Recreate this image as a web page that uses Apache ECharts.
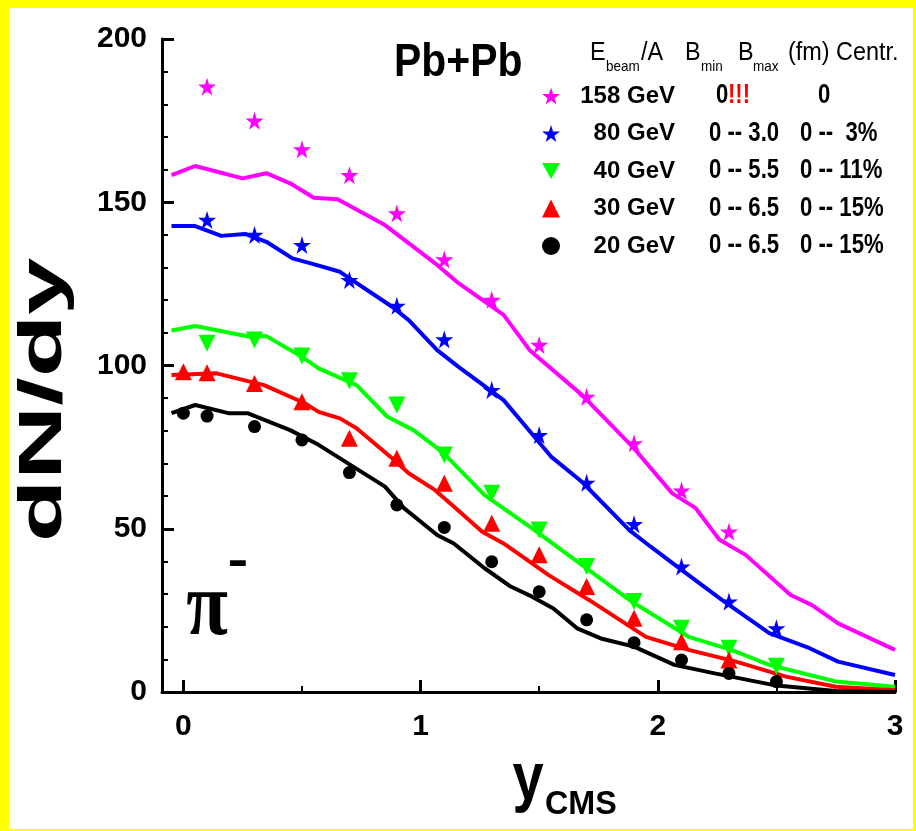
<!DOCTYPE html>
<html>
<head>
<meta charset="utf-8">
<script src="https://cdn.jsdelivr.net/npm/echarts@6/dist/echarts.min.js"></script>
<style>
html,body{margin:0;padding:0;background:#ffff00;}
#frame{position:absolute;left:9px;top:8px;width:904px;height:821px;background:#fff;}
#chart{position:absolute;left:0;top:0;width:916px;height:831px;}
</style>
</head>
<body>
<div id="frame"></div>
<div id="chart"></div>
<script>
// ---- data ----
const names = ['158 GeV', '80 GeV', '40 GeV', '30 GeV', '20 GeV'];
const colors = ['#ff00ff', '#0000ff', '#00ff00', '#ff0000', '#000000'];

const x158 = [0.1,0.3,0.5,0.7,0.9,1.1,1.3,1.5,1.7,1.9,2.1,2.3];
const y158 = [185.4,175.0,166.2,158.3,146.6,132.5,120.1,106.3,90.4,76.2,61.7,49.1];
const x80 = [0.1,0.3,0.5,0.7,0.9,1.1,1.3,1.5,1.7,1.9,2.1,2.3,2.5];
const y80 = [144.6,140.0,136.9,126.2,118.3,108.0,92.5,78.7,64.1,51.4,38.4,27.7,19.5];
const x40 = [0.1,0.3,0.5,0.7,0.9,1.1,1.3,1.5,1.7,1.9,2.1,2.3,2.5];
const y40 = [106.8,107.8,102.9,95.3,87.9,72.6,60.9,49.6,38.4,27.7,19.5,13.4,7.9];
const x30 = [0,0.1,0.3,0.5,0.7,0.9,1.1,1.3,1.5,1.7,1.9,2.1,2.3];
const y30 = [98.1,97.8,94.5,88.9,77.7,71.6,63.9,51.7,42.0,32.3,22.6,15.4,9.8];
const x20 = [0,0.1,0.3,0.5,0.7,0.9,1.1,1.3,1.5,1.7,1.9,2.1,2.3,2.5];
const y20 = [85.4,84.5,81.3,77.2,67.2,57.3,50.4,39.9,30.7,22.1,15.1,9.8,5.7,3.2];

// model curves
const m158x = [-0.05,0.05,0.25,0.35,0.45,0.55,0.65,0.85,1.07,1.16,1.35,1.46,1.68,1.90,2.06,2.16,2.26,2.37,2.56,2.65,2.76,3.0];
const m158y = [158.3,161.1,157.3,158.9,155.8,151.4,150.9,143.0,130.8,125.2,115.5,104.7,91.0,74.6,60.9,56.3,46.6,42.0,29.7,26.6,21.0,12.9];
const m80x = [-0.05,0.05,0.16,0.26,0.35,0.46,0.56,0.66,0.88,0.95,1.07,1.16,1.35,1.48,1.55,1.68,1.88,1.97,2.10,2.27,2.47,2.64,2.76,3.0];
const m80y = [142.7,142.7,139.7,140.3,137.9,132.8,130.8,128.7,118.0,113.9,104.7,99.6,89.4,78.2,72.1,64.4,49.6,44.5,37.4,28.2,18.0,13.4,9.3,5.2];
const m40x = [-0.05,0.05,0.28,0.35,0.51,0.57,0.73,0.86,0.97,1.09,1.27,1.47,1.72,1.89,2.13,2.31,2.47,2.75,3.0];
const m40y = [110.7,112.1,108.8,109.0,102.2,99.1,94.0,84.3,80.2,73.6,60.3,50.1,36.8,27.7,16.9,12.9,8.3,3.2,1.6];
const m30x = [-0.05,0.14,0.34,0.51,0.57,0.66,0.73,0.88,0.95,1.06,1.14,1.26,1.35,1.47,1.54,1.71,1.95,2.13,2.33,2.54,2.75,3.0];
const m30y = [97.1,97.6,94.0,88.5,85.8,83.8,80.8,71.6,67.0,61.9,56.8,49.1,45.5,39.4,35.8,28.2,16.9,12.9,9.3,4.7,1.6,0.5];
const m20x = [-0.05,0.05,0.19,0.27,0.45,0.57,0.85,0.93,1.07,1.14,1.27,1.38,1.47,1.56,1.66,1.76,1.90,2.07,2.24,2.49,2.75,3.0];
const m20y = [85.4,87.9,85.4,85.4,80.2,75.7,62.9,56.3,48.1,45.5,37.9,32.3,29.2,25.6,19.5,16.4,13.9,8.3,5.7,2.1,0.3,0];

const xMajorTicks = [0, 1, 2, 3];
const xMinorTicks = [0.5, 1.5, 2.5];

// legend table columns
const bRange = ['0', '0 -- 3.0', '0 -- 5.5', '0 -- 6.5', '0 -- 6.5'];
const centr = ['0', '0 --  3%', '0 -- 11%', '0 -- 15%', '0 -- 15%'];

// ---- build ----
const star = 'path://M50,0L61,35L98,35L68,57L79,91L50,70L21,91L32,57L2,35L39,35Z';
const tdown = 'path://M0,0L10,0L5,9Z';
const symbols = [star, star, tdown, 'triangle', 'circle'];
const symSizes = [18, 18, 17, 17, 13];
const ptsX = [x158, x80, x40, x30, x20];
const ptsY = [y158, y80, y40, y30, y20];
const modX = [m158x, m80x, m40x, m30x, m20x];
const modY = [m158y, m80y, m40y, m30y, m20y];
const zip = (a, b) => a.map((v, i) => [v, b[i]]);

const SANS = "'Liberation Sans', Arial, sans-serif";

const series = [];
for (let i = 0; i < 5; i++) {
  series.push({
    name: names[i] + ' model', type: 'line', xAxisIndex: 0, yAxisIndex: 0,
    data: zip(modX[i], modY[i]), showSymbol: false, symbol: 'none',
    lineStyle: { color: colors[i], width: 4 }, itemStyle: { color: colors[i] },
    z: 2, silent: true, animation: false
  });
}
for (let i = 0; i < 5; i++) {
  series.push({
    name: names[i], type: 'scatter', xAxisIndex: 0, yAxisIndex: 0,
    data: zip(ptsX[i], ptsY[i]), symbol: symbols[i], symbolSize: symSizes[i],
    itemStyle: { color: colors[i], opacity: 1 }, z: 3, animation: false
  });
}

const graphic = [];
function txt(x, y, text, size, opts) {
  opts = opts || {};
  graphic.push({
    type: 'text', x: x, y: y, scaleX: opts.sx || 1, scaleY: opts.sy || 1, rotation: opts.rot || 0,
    z: 10,
    style: {
      text: text, fill: opts.color || '#000',
      font: (opts.weight || 'bold') + ' ' + size + 'px ' + (opts.family || SANS),
      textAlign: opts.align || 'left', textVerticalAlign: 'middle'
    }
  });
}
// title
txt(394, 63, 'Pb+Pb', 46, { sx: 0.89 });
// header
const HS = 0.9;
txt(590, 53, 'E', 26, { weight: 'normal', sx: HS });
txt(606, 67, 'beam', 15, { weight: 'normal', sx: HS });
txt(641, 53, '/A', 26, { weight: 'normal', sx: HS });
txt(685, 53, 'B', 26, { weight: 'normal', sx: HS });
txt(701, 67, 'min', 15, { weight: 'normal', sx: HS });
txt(738, 53, 'B', 26, { weight: 'normal', sx: HS });
txt(753, 67, 'max', 15, { weight: 'normal', sx: HS });
txt(788, 53, '(fm) Centr.', 26, { weight: 'normal', sx: HS });
// rows
const RS = 0.82;
const rowY = [96, 133.5, 171, 208.5, 246];
for (let i = 0; i < 5; i++) {
  if (i === 0) {
    txt(716, rowY[i], '0', 27, { sx: RS });
    txt(728, rowY[i], '!!!', 27, { color: '#ff0000', sx: RS });
    txt(818, rowY[i], centr[i], 27, { sx: RS });
  } else {
    txt(709, rowY[i], bRange[i], 27, { sx: RS });
    txt(800, rowY[i], centr[i], 27, { sx: RS });
  }
}
// axis names
txt(44, 400, 'dN/dy', 61, { rot: Math.PI / 2, align: 'center', sx: 1.68 });
txt(528, 780, 'y', 56, { align: 'center', sy: 1.2 });
txt(545, 805, 'CMS', 34, { sx: 0.95 });
// pi-
txt(207, 610, 'π', 76, { align: 'center', weight: 'bold', sy: 1.2, family: "'Liberation Serif', 'DejaVu Serif', serif" });
txt(238, 563, '-', 48, { align: 'center', sx: 1.3 });

const chart = echarts.init(document.getElementById('chart'), null, { renderer: 'canvas' });
chart.setOption({
  animation: false,
  backgroundColor: 'transparent',
  grid: { left: 162, right: 21, top: 39, bottom: 139, containLabel: false },
  xAxis: [{
    type: 'value', min: -0.09, max: 3,
    axisLine: { onZero: false, lineStyle: { color: '#000', width: 3 } },
    axisTick: { inside: true, length: 12, customValues: xMajorTicks, lineStyle: { color: '#000', width: 3 } },
    axisLabel: { customValues: xMajorTicks, margin: 20, color: '#000', fontSize: 30, fontWeight: 'bold', fontFamily: SANS },
    splitLine: { show: false }
  }, {
    type: 'value', min: -0.09, max: 3, position: 'bottom',
    axisLine: { show: false },
    axisTick: { inside: true, length: 6, customValues: xMinorTicks, lineStyle: { color: '#000', width: 2 } },
    axisLabel: { show: false },
    splitLine: { show: false }
  }],
  yAxis: [{
    type: 'value', min: 0, max: 200, interval: 50,
    axisLine: { show: true, onZero: false, lineStyle: { color: '#000', width: 3 } },
    axisTick: { show: true, inside: true, length: 12, lineStyle: { color: '#000', width: 3 } },
    minorTick: { show: true, splitNumber: 5, length: 6, lineStyle: { color: '#000', width: 2 } },
    axisLabel: { margin: 15, color: '#000', fontSize: 30, fontWeight: 'bold', fontFamily: SANS },
    splitLine: { show: false }, minorSplitLine: { show: false }
  }],
  legend: {
    orient: 'vertical', left: 537, top: 79, itemWidth: 18, itemHeight: 18, itemGap: 13.5,
    selectedMode: false,
    data: [
      { name: names[0], icon: star }, { name: names[1], icon: star },
      { name: names[2], icon: tdown }, { name: names[3], icon: 'triangle' },
      { name: names[4], icon: 'circle' }
    ],
    formatter: function (n) { return '{r|' + n + '}'; },
    textStyle: {
      fontSize: 24, fontWeight: 'bold', color: '#000', fontFamily: SANS,
      rich: { r: { width: 110, align: 'right', fontSize: 24, fontWeight: 'bold', fontFamily: SANS, color: '#000' } }
    }
  },
  series: series,
  graphic: graphic
});
</script>
</body>
</html>
